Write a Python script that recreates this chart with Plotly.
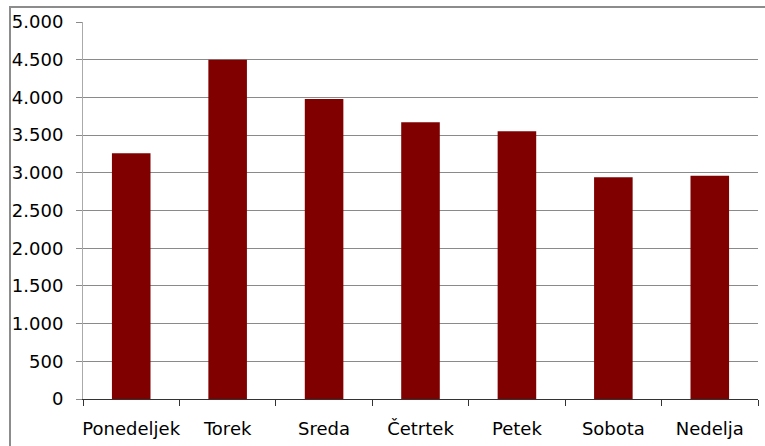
import plotly.graph_objects as go

days = ["Ponedeljek", "Torek", "Sreda", "Četrtek", "Petek", "Sobota", "Nedelja"]
counts = [3260, 4500, 3980, 3670, 3550, 2940, 2960]
y_ticks = list(range(0, 5001, 500))

W, H = 765, 446
L, R, T, B = 83, 7, 22, 47
plot_w = W - L - R
plot_h = H - T - B

FONT = "DejaVu Sans"

fig = go.Figure(
    go.Bar(
        x=days,
        y=counts,
        marker=dict(color="#800000", line=dict(width=0)),
        width=0.4,
    )
)

# outer chart-area frame (pixel positions converted to paper coords)
fx0 = (10 - L) / plot_w
fy1 = (H - B - 7) / plot_h
fig.add_shape(
    type="rect", xref="paper", yref="paper",
    x0=fx0, x1=1.2, y0=-0.3, y1=fy1,
    line=dict(color="#8c8c8c", width=2), fillcolor="rgba(0,0,0,0)",
    layer="below",
)

fig.update_layout(
    width=W, height=H,
    margin=dict(l=L, r=R, t=T, b=B),
    paper_bgcolor="white", plot_bgcolor="white",
    separators=",.",
    showlegend=False,
    font=dict(family=FONT, size=18, color="#000000"),
    xaxis=dict(
        showgrid=False,
        showline=True, linecolor="#333333", linewidth=1,
        ticks="outside", ticklen=6, tickcolor="#333333",
        tickson="boundaries",
        tickangle=0,
        automargin=False,
        ticklabelstandoff=13,
        tickfont=dict(family=FONT, size=18),
        range=[-0.5, 6.5],
        fixedrange=True,
    ),
    yaxis=dict(
        range=[0, 5000],
        tickvals=y_ticks,
        tickformat=",d",
        automargin=False,
        ticklabelstandoff=9,
        showgrid=True, gridcolor="#8a8a8a", gridwidth=1,
        showline=True, linecolor="#aaaaaa", linewidth=1,
        ticks="outside", ticklen=6, tickcolor="#8a8a8a",
        tickfont=dict(family=FONT, size=18),
        zeroline=False,
        fixedrange=True,
    ),
)

fig.write_html("out.html")
